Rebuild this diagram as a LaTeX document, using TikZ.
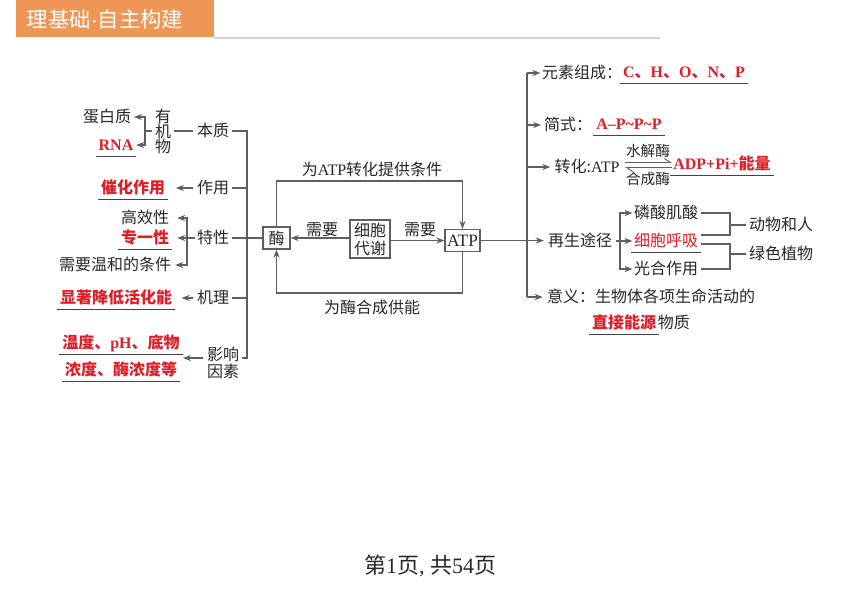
\documentclass[tikz,border=0pt]{standalone}
\usepackage{fontspec}
\setmainfont{Liberation Serif}
\newfontfamily\cj{Noto Sans CJK SC}
\newfontfamily\lt{Liberation Serif}
\newfontfamily\ls{Liberation Sans}
\usetikzlibrary{arrows.meta,calc}
\definecolor{tx}{RGB}{40,40,40}
\definecolor{rd}{RGB}{225,30,40}
\definecolor{lc}{RGB}{95,95,95}
\definecolor{hdc}{RGB}{237,150,86}
\newcommand\ulu[1]{\draw[ul] ([xshift=-2pt,yshift=-2.5pt]#1.south west) -- ([xshift=2pt,yshift=-2.5pt]#1.south east);}
\begin{document}
\begin{tikzpicture}[x=0.75pt,y=-0.75pt,
 txt/.style={inner sep=0pt, text=tx, font=\cj\fontsize{12}{14}\selectfont, text height=10.2pt, text depth=1.8pt},
 rtxt/.style={txt, text=rd, font=\cj\bfseries\fontsize{12}{14}\selectfont},
 mtxt/.style={inner sep=0pt, text=tx, align=center},
 stxt/.style={txt, font=\cj\fontsize{11}{13}\selectfont},
 ln/.style={draw=lc, line width=0.9pt},
 arr/.style={ln, -{Stealth[length=6pt,width=4.6pt]}},
 hp/.style={ln, line width=0.7pt, -{Straight Barb[harpoon,length=4.5pt,width=6pt]}},
 box/.style={draw=lc, line width=1pt, inner sep=0pt, text=tx, font=\cj\fontsize{12}{14}\selectfont, align=center},
 ul/.style={draw=lc!70!black, line width=0.8pt}]
\useasboundingbox (0,0) rectangle (860,608);
\fill[white] (0,0) rectangle (860,608);
% header
\fill[hdc] (16,0) rectangle (214,37);
\draw[gray!35, line width=1.4pt] (214,38) -- (660,38);
\node[inner sep=0pt, text=white, font=\cj\fontsize{16}{18}\selectfont] (hdr) at (105,19) {理基础{\ls\textperiodcentered}自主构建};
% footer
\node[inner sep=0pt, text=tx, font=\cj\fontsize{16.5}{18}\selectfont] (ftr) at (430,566) {第{\lt 1}页{\lt , }共{\lt 54}页};

% ---------- left part
\node[txt] (dbz) at (107,117) {蛋白质};
\node[rtxt] (rna) at (116,145) {\lt RNA};
\node[mtxt, font=\cj\fontsize{12}{11.25}\selectfont] (yjw) at (163,131) {有\\机\\物};
\node[txt] (bz) at (213,131) {本质};
\node[rtxt] (chzy) at (133,188) {催化作用};
\node[txt] (zy) at (213,188) {作用};
\node[txt] (gxx) at (145,218) {高效性};
\node[rtxt] (zyx) at (145,238) {专一性};
\node[txt] (xywh) at (115,265) {需要温和的条件};
\node[txt] (tx) at (213,238) {特性};
\node[rtxt] (xz) at (116,298) {显著降低活化能};
\node[txt] (jl) at (213,298) {机理};
\node[rtxt] (wd) at (121,343) {温度、{\lt pH}、底物};
\node[rtxt] (nd) at (121,370) {浓度、酶浓度等};
\node[mtxt, font=\cj\fontsize{12}{12.75}\selectfont] (yx) at (223,363) {影响\\因素};

\coordinate (b1) at (145,131);
\coordinate (b2) at (187,238);
\coordinate (spT) at (247,131);
\coordinate (spB) at (247,358);
\coordinate (ya) at (183,358);

\draw[ln, shorten <=2pt, shorten >=3pt] (yjw.east) -- (bz.west);
\draw[ln, shorten <=2pt] (yjw.west) -- (b1);
\draw[arr] (b1) |- ([xshift=2pt]dbz.east);
\draw[arr] (b1) |- ([xshift=2pt]rna.east);
\draw[ln, shorten <=2pt] (bz.east) -| (spB) -- ([xshift=2pt]yx.east |- spB);
\draw[ln, shorten <=2pt] (zy.east) -- (zy.east -| spT);
\draw[ln, shorten <=2pt] (jl.east) -- (jl.east -| spT);
\draw[ln, shorten <=2pt] (tx.east) -- (tx.east -| spT);
\draw[arr, shorten <=3pt] (zy.west) -- ([xshift=8pt]chzy.east);
\draw[ln, shorten <=1pt] (tx.west) -- (b2);
\draw[arr] (b2) |- ([xshift=6pt]gxx.east);
\draw[arr] (b2) -- ([xshift=6pt]zyx.east);
\draw[arr] (b2) |- ([xshift=3pt]xywh.east);
\draw[arr, shorten <=3pt] (jl.west) -- ([xshift=7pt]xz.east);
\draw[arr] ([xshift=-3pt]yx.west |- ya) -- (ya);

\ulu{rna}\ulu{chzy}\ulu{zyx}\ulu{xz}\ulu{wd}\ulu{nd}

% ---------- middle part
\node[box, minimum width=20.25pt, minimum height=16.5pt] (mei) at (276.5,238) {酶};
\node[box, minimum width=30pt, minimum height=28.5pt, font=\cj\fontsize{12}{13.5}\selectfont] (cm) at (370,239) {细胞\\代谢};
\node[box, minimum width=26.25pt, minimum height=16.5pt, font=\lt\fontsize{13}{14}\selectfont] (atp) at (462.5,240.5) {ATP};
\draw[ln] (tx.east -| spT) -- (mei.west);
\draw[arr] (cm.west |- mei.east) -- (mei.east);
\draw[arr] (cm.east |- atp.west) -- (atp.west);
\node[txt] (xy1) at (322,230) {需要};
\node[txt] (xy2) at (420,230) {需要};
\coordinate (tl) at (275,181);
\coordinate (bl) at (275,293);
\draw[arr] (mei.north) |- (atp.north |- tl) -- (atp.north);
\draw[arr] (atp.south) -- (atp.south |- bl) -| (mei.south);
\node[txt] (lbt) at (372,170) {为{\lt ATP}转化提供条件};
\node[txt] (lbb) at (372,308) {为酶合成供能};

% ---------- right part
\coordinate (rsT) at (527,73);
\coordinate (rsB) at (527,297);
\node[txt] (yszc) at (582,73) {元素组成：};
\node[rtxt] (chnp) at (684,72) {{\lt C}、{\lt H}、{\lt O}、{\lt N}、{\lt P}};
\node[txt] (js) at (568,125) {简式：};
\node[rtxt] (apppp) at (629,124) {\lt A{\char"2013}P\textasciitilde P\textasciitilde P};
\node[txt] (zh) at (587,167) {转化:{\lt ATP}};
\node[stxt] (sjm) at (648,151) {水解酶};
\node[stxt] (hcm) at (648,179) {合成酶};
\node[rtxt] (adp) at (722,164) {{\lt ADP+Pi+}能量};
\coordinate (ha) at (625,162.5);
\coordinate (hb) at (672,162.5);
\coordinate (hc) at (625,167.5);
\coordinate (hd) at (672,167.5);
\draw[hp] (ha) -- (hb);
\draw[hp] (hd) -- (hc);
\node[txt] (zs) at (580,241) {再生途径};
\node[txt] (lsjs) at (666,213) {磷酸肌酸};
\node[txt, text=rd] (xbhx) at (666,241) {细胞呼吸};
\node[txt] (ghzy) at (666,269) {光合作用};
\node[txt] (dwhr) at (781,225) {动物和人};
\node[txt] (lszw) at (781,254) {绿色植物};
\node[txt] (yy) at (651,297) {意义：生物体各项生命活动的};
\node[rtxt] (zjny) at (624,323) {直接能源};
\node[txt, anchor=west] (wz) at ([xshift=1pt]zjny.east) {物质};

\draw[ln] (rsT) -- (rsB);
\draw[arr] (rsT) -- ([xshift=-1pt]yszc.west);
\draw[arr] (rsT |- js.west) -- ([xshift=-2pt]js.west);
\draw[arr] (rsT |- zh.west) -- ([xshift=-3pt]zh.west);
\draw[arr] (atp.east) -- ([xshift=-3pt]atp.east -| zs.west);
\draw[arr] (rsB) -- ([xshift=-3pt]yy.west |- rsB);

\coordinate (b3) at (620,241);
\draw[ln, shorten <=3pt] (zs.east) -- (b3);
\draw[arr] (b3) |- ([xshift=-1pt]lsjs.west);
\draw[arr] (b3) -- ([xshift=-1pt]xbhx.west);
\draw[arr] (b3) |- ([xshift=-1pt]ghzy.west);

\coordinate (r1t) at (730,213);
\coordinate (r1b) at (730,235);
\coordinate (r2t) at (730,244);
\coordinate (r2b) at (730,269);
\draw[ln] ([xshift=2pt]lsjs.east) -- (r1t) -- (r1b) -- ([xshift=2pt]xbhx.east |- r1b);
\draw[ln] ([xshift=2pt]xbhx.east |- r2t) -- (r2t) -- (r2b) -- ([xshift=2pt]ghzy.east);
\draw[ln] (dwhr.west -| r1t) -- ([xshift=-2pt]dwhr.west);
\draw[ln] (lszw.west -| r2t) -- ([xshift=-2pt]lszw.west);

\ulu{chnp}\ulu{apppp}\ulu{adp}\ulu{xbhx}\ulu{zjny}
\end{tikzpicture}
\end{document}
